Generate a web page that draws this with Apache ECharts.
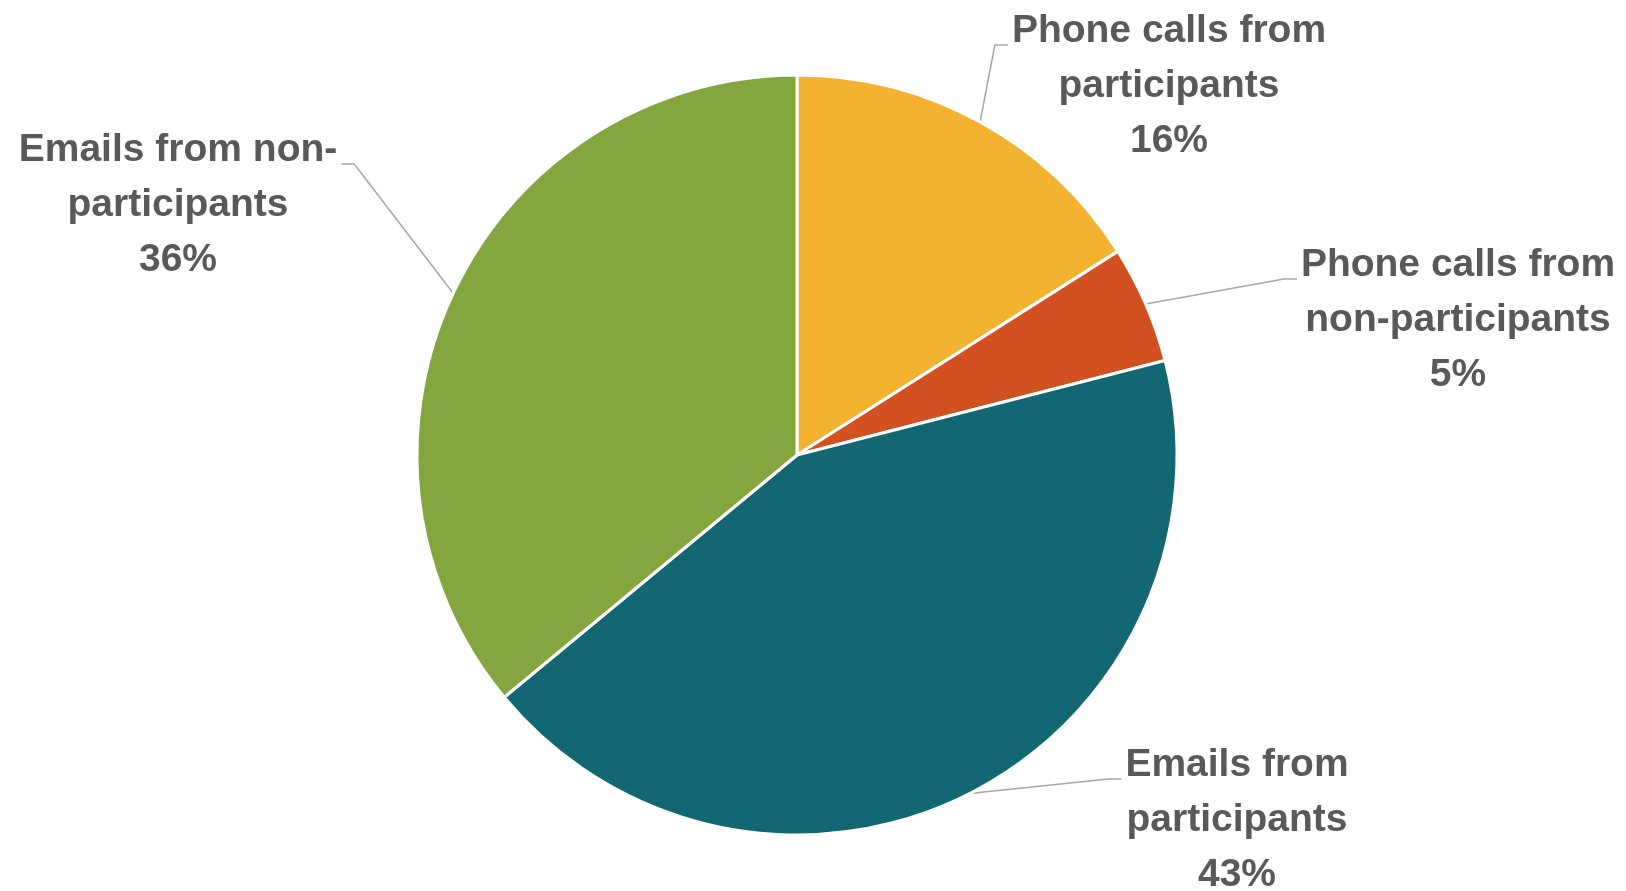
<!DOCTYPE html>
<html>
<head>
<meta charset="utf-8">
<script src="https://cdn.jsdelivr.net/npm/echarts@6/dist/echarts.min.js"></script>
<style>
  html, body { margin: 0; padding: 0; background: #ffffff; }
  #chart { width: 1626px; height: 891px; }
</style>
</head>
<body>
<div id="chart"></div>
<script>
// Contact channels, clockwise from 12 o'clock
const categories = [
  'Phone calls from\nparticipants',
  'Phone calls from\nnon-participants',
  'Emails from\nparticipants',
  'Emails from non-\nparticipants'
];
const shares = [16, 5, 43, 36];
const sliceColors = ['#F3B331', '#D35120', '#126773', '#84A63E'];

// Where each label block is centred (px)
const labelSpots = [
  [1169, 86],
  [1458, 320],
  [1237, 820],
  [178, 205]
];

const LINE_H = 55;
const chart = echarts.init(document.getElementById('chart'), null, { renderer: 'canvas' });

chart.setOption({
  animation: false,
  backgroundColor: '#ffffff',
  series: [{
    type: 'pie',
    center: [797, 455],
    radius: [0, 380],
    startAngle: 90,
    clockwise: true,
    data: categories.map((name, i) => ({
      name: name,
      value: shares[i],
      itemStyle: { color: sliceColors[i] }
    })),
    itemStyle: { borderColor: '#ffffff', borderWidth: 3 },
    label: {
      show: true,
      position: 'outside',
      formatter: p => p.name + '\n' + p.value + '%',
      fontFamily: '"Liberation Sans", Arial, sans-serif',
      fontWeight: 'bold',
      fontSize: 39,
      lineHeight: LINE_H,
      color: '#595959',
      align: 'center'
    },
    labelLine: {
      show: true,
      length: 20,
      length2: 20,
      lineStyle: { color: '#A6A6A6', width: 1.5 }
    },
    labelLayout: params => {
      const [cx, cy] = labelSpots[params.dataIndex];
      const w = params.labelRect.width;
      const start = params.labelLinePoints[0];
      // leader meets the side of the block just below the first line
      const onRight = cx > start[0];
      const endX = onRight ? cx - w / 2 - 4 : cx + w / 2 + 4;
      const endY = cy - LINE_H + 14;
      const midX = onRight ? endX - 13 : endX + 13;
      return {
        x: cx,
        y: cy,
        align: 'center',
        verticalAlign: 'middle',
        labelLinePoints: [start, [midX, endY], [endX, endY]]
      };
    }
  }]
});
</script>
</body>
</html>
